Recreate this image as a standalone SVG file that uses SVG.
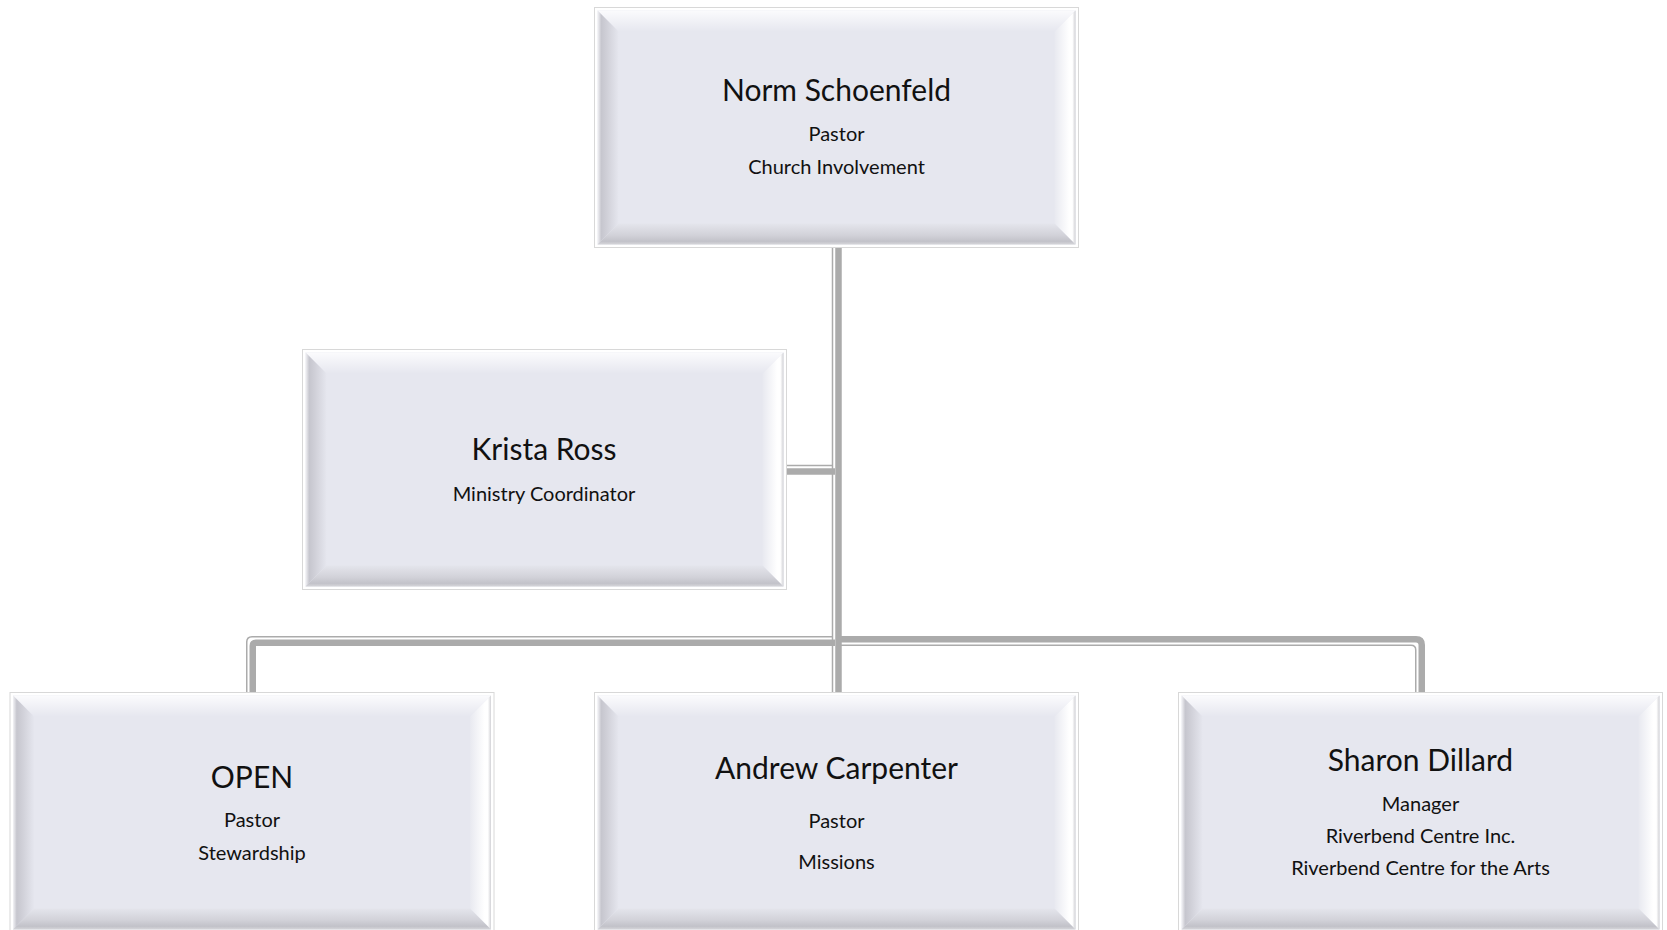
<svg xmlns="http://www.w3.org/2000/svg" width="1667" height="930" viewBox="0 0 1667 930">
<style>
  .thin{fill:none;stroke:#ababab;stroke-width:1.5}
  .thick{fill:none;stroke:#ababab;stroke-width:6.5}
  text{font-family:Lato,"Open Sans","Liberation Sans",sans-serif;fill:#111;text-anchor:middle}
  .name{font-size:30px}
  .sub{font-size:20px}
</style>
<defs>
  <linearGradient id="gTop" x1="0" y1="0" x2="0" y2="1"><stop offset="0" stop-color="#fbfbfd"/><stop offset="1" stop-color="#e6e7ef"/></linearGradient>
  <linearGradient id="gLeft" x1="0" y1="0" x2="1" y2="0"><stop offset="0" stop-color="#f3f3f6"/><stop offset="0.18" stop-color="#c6c6ce"/><stop offset="0.45" stop-color="#d0d0d8"/><stop offset="1" stop-color="#e5e6ee"/></linearGradient>
  <linearGradient id="gRight" x1="0" y1="0" x2="1" y2="0"><stop offset="0" stop-color="#e8e9f0"/><stop offset="0.7" stop-color="#ffffff"/><stop offset="0.85" stop-color="#ffffff"/><stop offset="1" stop-color="#d2d2d6"/></linearGradient>
  <linearGradient id="gBottom" x1="0" y1="0" x2="0" y2="1"><stop offset="0" stop-color="#e4e5ec"/><stop offset="0.55" stop-color="#d2d2d9"/><stop offset="0.85" stop-color="#c2c2c9"/><stop offset="1" stop-color="#d6d6da"/></linearGradient>
  <g id="card">
    <rect x="0.5" y="0.5" width="484" height="240" fill="#ffffff" stroke="#d8d8d8"/>
    <rect x="3.5" y="3.5" width="478" height="234" fill="#e6e7ef"/>
    <polygon points="3.5,3.5 481.5,3.5 460.5,24.5 24.5,24.5" fill="url(#gTop)"/>
    <polygon points="3.5,3.5 24.5,24.5 24.5,216.5 3.5,237.5" fill="url(#gLeft)"/>
    <polygon points="481.5,3.5 481.5,237.5 460.5,216.5 460.5,24.5" fill="url(#gRight)"/>
    <polygon points="3.5,237.5 24.5,216.5 460.5,216.5 481.5,237.5" fill="url(#gBottom)"/>
  </g>
</defs>
<rect width="1667" height="930" fill="#ffffff"/>
<g id="connectors">
  <line class="thin" x1="832.5" y1="248" x2="832.5" y2="692"/>
  <line class="thick" x1="838.5" y1="248" x2="838.5" y2="692"/>
  <line class="thin" x1="832" y1="465.5" x2="786" y2="465.5"/>
  <line class="thick" x1="835" y1="471.5" x2="786" y2="471.5"/>
  <path class="thin" d="M832 636.75 H252 Q246.75 636.75 246.75 642 V692"/>
  <path class="thick" d="M835 642.75 H256 Q252.75 642.75 252.75 646 V692"/>
  <path class="thin" d="M841 645.25 H1411 Q1415.75 645.25 1415.75 650 V692"/>
  <path class="thick" d="M841 639.25 H1416 Q1421.75 639.25 1421.75 645 V692"/>
</g>
<g id="node-norm">
  <use href="#card" x="594" y="7"/>
  <text class="name" x="836.5" y="101">Norm Schoenfeld</text>
  <text class="sub" x="836.5" y="141">Pastor</text>
  <text class="sub" x="836.5" y="174">Church Involvement</text>
</g>
<g id="node-krista">
  <use href="#card" x="302" y="349"/>
  <text class="name" x="544" y="460">Krista Ross</text>
  <text class="sub" x="544" y="501">Ministry Coordinator</text>
</g>
<g id="node-open">
  <use href="#card" x="9.5" y="692"/>
  <text class="name" x="252" y="788">OPEN</text>
  <text class="sub" x="252" y="827">Pastor</text>
  <text class="sub" x="252" y="860">Stewardship</text>
</g>
<g id="node-andrew">
  <use href="#card" x="594" y="692"/>
  <text class="name" x="836.5" y="779">Andrew Carpenter</text>
  <text class="sub" x="836.5" y="828">Pastor</text>
  <text class="sub" x="836.5" y="869">Missions</text>
</g>
<g id="node-sharon">
  <use href="#card" x="1178" y="692"/>
  <text class="name" x="1420.5" y="771">Sharon Dillard</text>
  <text class="sub" x="1420.5" y="811">Manager</text>
  <text class="sub" x="1420.5" y="843">Riverbend Centre Inc.</text>
  <text class="sub" x="1420.5" y="875">Riverbend Centre for the Arts</text>
</g>
</svg>
